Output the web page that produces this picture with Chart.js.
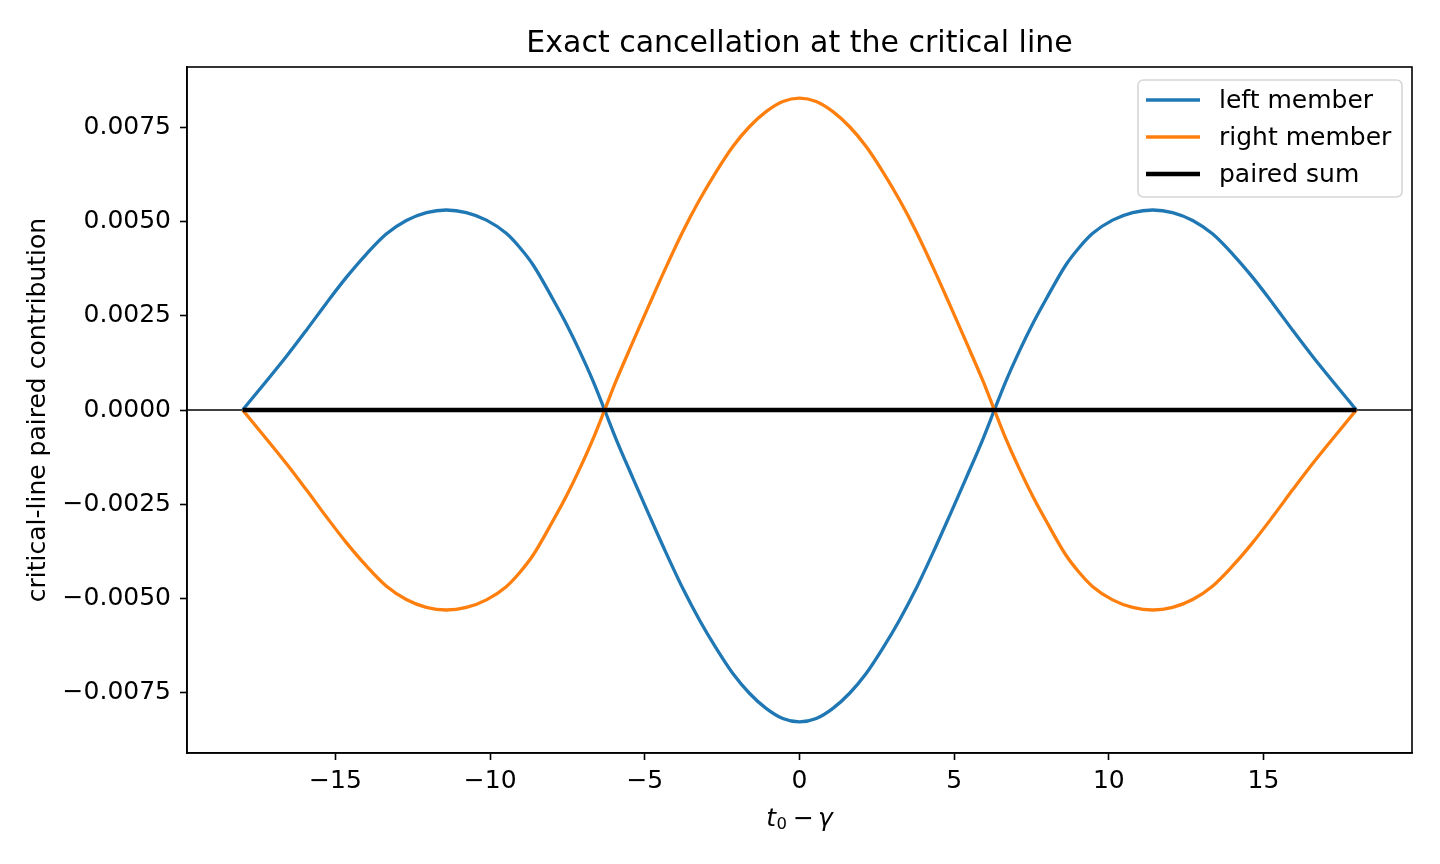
<!DOCTYPE html>
<html><head><meta charset="utf-8">
<script src="https://cdn.jsdelivr.net/npm/chart.js@4.4.1/dist/chart.umd.min.js"></script>
<style>html,body{margin:0;padding:0;background:#fff;overflow:hidden}#wrap{width:1440px;height:864px}</style>
</head><body><div id="wrap"><canvas id="c" width="1440" height="864"></canvas></div>
<script>
// ---- data ----
const tValues = [-18, -16.59, -15.94, -15.3, -14.65, -14, -13.36, -12.71, -12.06, -11.42,
                 -10.77, -10.12, -9.48, -9.05, -8.61, -7.97, -7.54, -7.1, -6.67, -6.3,
                 -5.93, -5.39, -4.85, -4.31, -3.77, -3.23, -2.69, -2.16, -1.62, -1.08, -0.54, 0,
                 0.54, 1.08, 1.62, 2.16, 2.69, 3.23, 3.77, 4.31, 4.85, 5.39, 5.93,
                 6.3, 6.67, 7.1, 7.54, 7.97, 8.61, 9.05, 9.48, 10.12, 10.77,
                 11.42, 12.06, 12.71, 13.36, 14, 14.65, 15.3, 15.94, 16.59, 18];
const leftMember = [0, 0.00142, 0.00212, 0.00283, 0.00352, 0.00414, 0.00467, 0.00503, 0.00524, 0.00531,
                    0.00524, 0.00504, 0.00469, 0.00432, 0.00385, 0.00294, 0.00229, 0.00155, 0.00076, 0,
                    -0.00077, -0.00180, -0.00281, -0.00380, -0.00474, -0.00558, -0.00633, -0.00699, -0.00752, -0.00792, -0.00819, -0.00828,
                    -0.00819, -0.00792, -0.00752, -0.00699, -0.00633, -0.00558, -0.00474, -0.00380, -0.00281, -0.00180, -0.00077,
                    0, 0.00076, 0.00155, 0.00229, 0.00294, 0.00385, 0.00432, 0.00469, 0.00504, 0.00524,
                    0.00531, 0.00524, 0.00503, 0.00467, 0.00414, 0.00352, 0.00283, 0.00212, 0.00142, 0];
const rightMember = [0, -0.00142, -0.00212, -0.00283, -0.00352, -0.00414, -0.00467, -0.00503, -0.00524, -0.00531,
                     -0.00524, -0.00504, -0.00469, -0.00432, -0.00385, -0.00294, -0.00229, -0.00155, -0.00076, 0,
                     0.00077, 0.00180, 0.00281, 0.00380, 0.00474, 0.00558, 0.00633, 0.00699, 0.00752, 0.00792, 0.00819, 0.00828,
                     0.00819, 0.00792, 0.00752, 0.00699, 0.00633, 0.00558, 0.00474, 0.00380, 0.00281, 0.00180, 0.00077,
                     0, -0.00076, -0.00155, -0.00229, -0.00294, -0.00385, -0.00432, -0.00469, -0.00504, -0.00524,
                     -0.00531, -0.00524, -0.00503, -0.00467, -0.00414, -0.00352, -0.00283, -0.00212, -0.00142, 0];
const pairedSum = [0, 0, 0, 0, 0, 0, 0, 0, 0, 0,
                   0, 0, 0, 0, 0, 0, 0, 0, 0, 0,
                   0, 0, 0, 0, 0, 0, 0, 0, 0, 0, 0, 0,
                   0, 0, 0, 0, 0, 0, 0, 0, 0, 0, 0,
                   0, 0, 0, 0, 0, 0, 0, 0, 0, 0,
                   0, 0, 0, 0, 0, 0, 0, 0, 0, 0];
const seriesNames = ['left member', 'right member', 'paired sum'];
const xTicks = [-15, -10, -5, 0, 5, 10, 15];
const yTicks = [-0.0075, -0.005, -0.0025, 0, 0.0025, 0.005, 0.0075];
const xLimits = [-19.8, 19.8];
const yLimits = [-0.009106, 0.009106];
const titleText = 'Exact cancellation at the critical line';
const yLabelText = 'critical-line paired contribution';

// ---- styling ----
const FONT = '"DejaVu Sans", sans-serif';
const colors = ['#1f77b4', '#ff7f0e', '#000000'];
const widths = [3.3, 3.3, 4.4];
const pts = arr => tValues.map((t, i) => ({x: t, y: arr[i]}));
const minusFmt = (v, dec) => (v < 0 ? '\u2212' : '') + (dec == null ? String(Math.abs(v)) : Math.abs(v).toFixed(dec));

const decor = {
  id: 'decor',
  beforeDatasetsDraw(chart) {
    const {ctx, chartArea: a, scales: {y}} = chart;
    const y0 = y.getPixelForValue(0);
    ctx.save();
    ctx.strokeStyle = '#000'; ctx.lineWidth = 1.6;
    ctx.beginPath(); ctx.moveTo(a.left, y0); ctx.lineTo(a.right, y0); ctx.stroke();
    ctx.restore();
  },
  afterDraw(chart) {
    const {ctx, chartArea: a} = chart;
    ctx.save();
    // frame
    ctx.strokeStyle = '#000'; ctx.lineWidth = 1.6;
    ctx.strokeRect(a.left, a.top, a.right - a.left, a.bottom - a.top);
    // title
    ctx.fillStyle = '#000';
    ctx.font = '30px ' + FONT; ctx.textAlign = 'center'; ctx.textBaseline = 'alphabetic';
    ctx.fillText(titleText, (a.left + a.right) / 2, 52);
    // y label
    ctx.save();
    ctx.translate(45, (a.top + a.bottom) / 2);
    ctx.rotate(-Math.PI / 2);
    ctx.font = '25px ' + FONT; ctx.textAlign = 'center';
    ctx.fillText(yLabelText, 0, 0);
    ctx.restore();
    // x label: t_0 − γ
    const parts = [
      {s: 't', f: 'italic 25px ' + FONT, dy: 0, gap: 0.5},
      {s: '0', f: '16.5px ' + FONT, dy: 3, gap: 6},
      {s: '\u2212', f: '25px ' + FONT, dy: 0, gap: 4},
      {s: '\u03b3', f: 'italic 25px ' + FONT, dy: 0, gap: 0}
    ];
    let tot = 0;
    parts.forEach(p => { ctx.font = p.f; p.w = ctx.measureText(p.s).width; tot += p.w + p.gap; });
    let x = (a.left + a.right) / 2 - tot / 2;
    ctx.textAlign = 'left';
    parts.forEach(p => { ctx.font = p.f; ctx.fillText(p.s, x, 826 + p.dy); x += p.w + p.gap; });
    // legend
    const lx = 1138, ly = 80, lw = 264, lh = 117, r = 6;
    ctx.beginPath();
    ctx.moveTo(lx + r, ly); ctx.lineTo(lx + lw - r, ly); ctx.quadraticCurveTo(lx + lw, ly, lx + lw, ly + r);
    ctx.lineTo(lx + lw, ly + lh - r); ctx.quadraticCurveTo(lx + lw, ly + lh, lx + lw - r, ly + lh);
    ctx.lineTo(lx + r, ly + lh); ctx.quadraticCurveTo(lx, ly + lh, lx, ly + lh - r);
    ctx.lineTo(lx, ly + r); ctx.quadraticCurveTo(lx, ly, lx + r, ly); ctx.closePath();
    ctx.fillStyle = 'rgba(255,255,255,0.8)'; ctx.fill();
    ctx.strokeStyle = '#d6d6d6'; ctx.lineWidth = 1.6; ctx.stroke();
    const rows = [100, 137, 174];
    ctx.font = '25px ' + FONT; ctx.textBaseline = 'middle'; ctx.textAlign = 'left';
    seriesNames.forEach((n, i) => {
      ctx.strokeStyle = colors[i]; ctx.lineWidth = widths[i];
      ctx.beginPath(); ctx.moveTo(1146, rows[i]); ctx.lineTo(1200, rows[i]); ctx.stroke();
      ctx.fillStyle = '#000'; ctx.fillText(n, 1219, rows[i] + 1);
    });
    ctx.restore();
  }
};

new Chart(document.getElementById('c'), {
  type: 'line',
  data: {
    datasets: [leftMember, rightMember, pairedSum].map((arr, i) => ({
      label: seriesNames[i], data: pts(arr), borderColor: colors[i], backgroundColor: colors[i],
      borderWidth: widths[i], pointRadius: 0, fill: false, cubicInterpolationMode: 'monotone', order: 2 - i,
      borderCapStyle: 'butt', borderJoinStyle: 'round'
    }))
  },
  options: {
    responsive: false, animation: false, devicePixelRatio: 1,
    layout: {padding: {top: 67, right: 28, bottom: 0, left: 0}},
    plugins: {legend: {display: false}, title: {display: false}, tooltip: {enabled: false}},
    scales: {
      x: {
        type: 'linear', min: xLimits[0], max: xLimits[1],
        afterBuildTicks: s => { s.ticks = xTicks.map(v => ({value: v})); },
        afterFit: s => { s.height = 111; },
        ticks: {color: '#000', font: {family: FONT, size: 25}, padding: 6, maxRotation: 0, autoSkip: false,
                callback: v => minusFmt(v)},
        grid: {display: true, drawOnChartArea: false, drawTicks: true, tickLength: 7, tickWidth: 1.6, tickColor: '#000'},
        border: {display: true, color: '#000', width: 1.6}
      },
      y: {
        type: 'linear', min: yLimits[0], max: yLimits[1],
        afterBuildTicks: s => { s.ticks = yTicks.map(v => ({value: v})); },
        afterFit: s => { s.width = 187; },
        ticks: {color: '#000', font: {family: FONT, size: 25}, padding: 9, autoSkip: false,
                callback: v => minusFmt(v, 4)},
        grid: {display: true, drawOnChartArea: false, drawTicks: true, tickLength: 7, tickWidth: 1.6, tickColor: '#000'},
        border: {display: true, color: '#000', width: 1.6}
      }
    }
  },
  plugins: [decor]
});
</script></body></html>
